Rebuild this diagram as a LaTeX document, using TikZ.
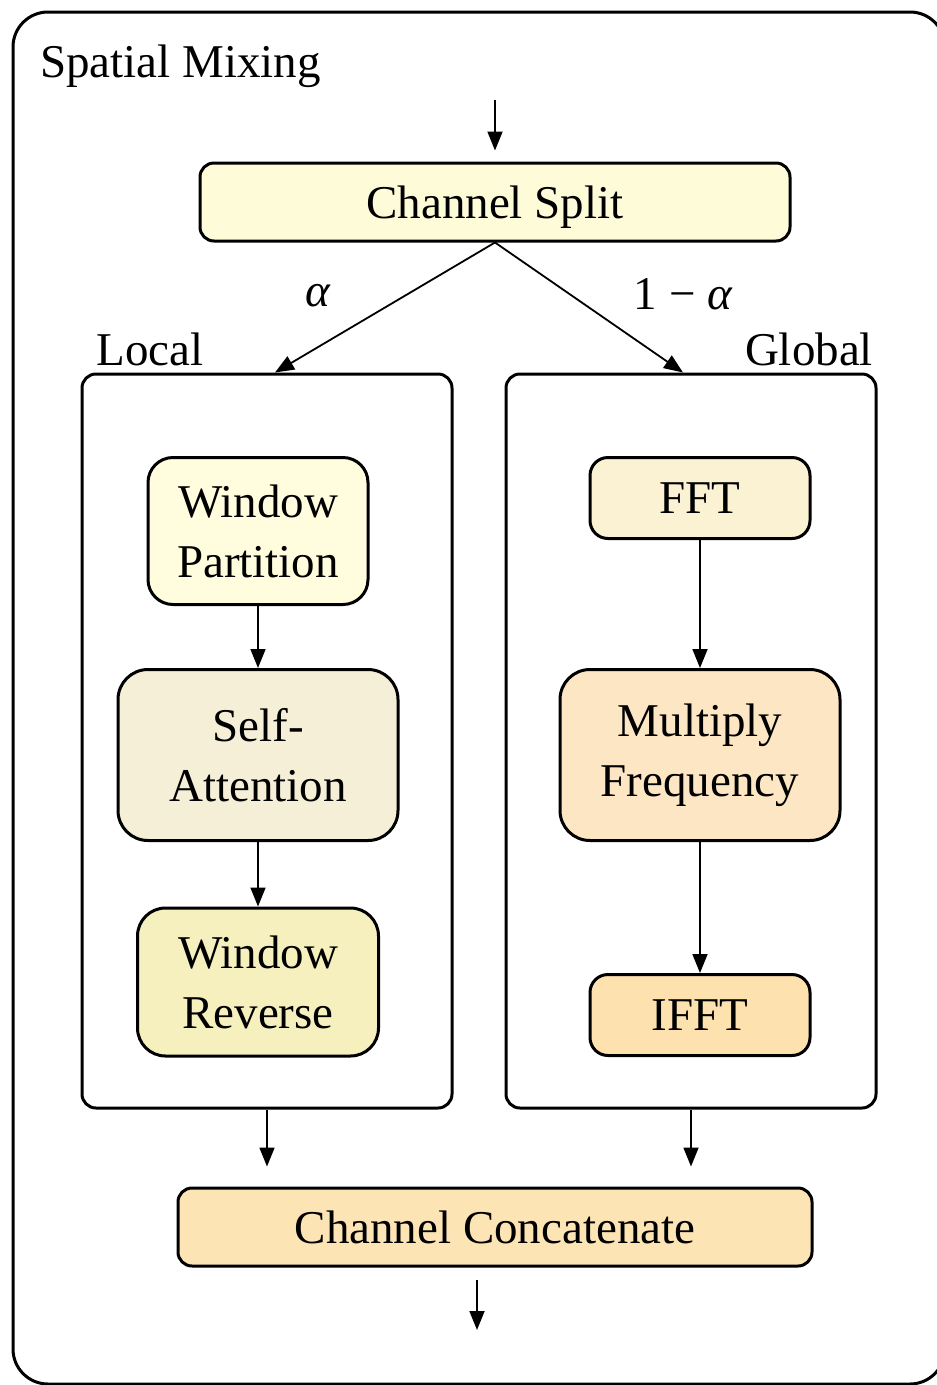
\documentclass[tikz,border=0pt]{standalone}
\usepackage{fontspec}
\setmainfont{Liberation Serif}
\usetikzlibrary{arrows.meta}
\definecolor{splitcol}{RGB}{254,252,216}
\definecolor{wpartcol}{RGB}{255,253,222}
\definecolor{selfcol}{RGB}{244,239,214}
\definecolor{wrevcol}{RGB}{245,240,190}
\definecolor{fftcol}{RGB}{250,242,210}
\definecolor{mulcol}{RGB}{253,230,195}
\definecolor{ifftcol}{RGB}{253,226,176}
\definecolor{concatcol}{RGB}{253,228,180}
\tikzset{
  blk/.style={draw, line width=3pt, inner sep=0pt, align=center,
    font=\fontsize{47}{60}\selectfont},
  grp/.style={draw, line width=3pt, inner sep=0pt, rounded corners=14pt},
  arr/.style={line width=1.8pt, -{Triangle[length=19pt,width=15pt]}},
  lbl/.style={font=\fontsize{47}{60}\selectfont, inner sep=0pt}
}

\begin{document}
\begin{tikzpicture}[x=1pt,y=-1pt]
  \useasboundingbox (0,0) rectangle (937,1385);
  % outer frame, cut off at the right and bottom
  \draw[line width=3pt, rounded corners=35pt] (13,12) rectangle (945,1384);
  \node[lbl, anchor=west] (title) at (40,66) {Spatial Mixing};

  \node[blk, fill=splitcol, rounded corners=14pt, minimum width=590, minimum height=78, text depth=0pt] (split) at (495,202) {Channel Split};
  \coordinate (in) at (495,100);
  \draw[arr, shorten >=11pt] (in) -- (split);

  % the two branches
  \node[grp, minimum width=370, minimum height=734] (localgrp) at (267,741) {};
  \node[grp, minimum width=370, minimum height=734] (globalgrp) at (691,741) {};
  \node[lbl] (loc) at (150,349) {Local};
  \node[lbl] (glob) at (809,349) {Global};
  \draw[arr] (split.south) -- ([xshift=8pt]localgrp.north);
  \draw[arr] (split.south) -- ([xshift=-8pt]globalgrp.north);
  \node[lbl] (alpha) at (318,296) {\itshape α};
  \node[lbl] (beta) at (683,294) {1 − \itshape α};

  % local branch
  \node[blk, fill=wpartcol, rounded corners=25pt, minimum width=220, minimum height=147] (wpart) at (258,531) {Window\\Partition};
  \node[blk, fill=selfcol, rounded corners=30pt, minimum width=280, minimum height=171] (selfatt) at (258,755) {Self-\\Attention};
  \node[blk, fill=wrevcol, rounded corners=28pt, minimum width=241, minimum height=148] (wrev) at (258,982) {Window\\Reverse};
  \draw[arr] (wpart) -- (selfatt);
  \draw[arr] (selfatt) -- (wrev);

  % global branch
  \node[blk, fill=fftcol, rounded corners=18pt, minimum width=220, minimum height=81] (fft) at (700,498) {FFT};
  \node[blk, fill=mulcol, rounded corners=30pt, minimum width=280, minimum height=171] (mulfreq) at (700,755) {Multiply\\Frequency};
  \node[blk, fill=ifftcol, rounded corners=18pt, minimum width=220, minimum height=81] (ifft) at (700,1015) {IFFT};
  \draw[arr] (fft) -- (mulfreq);
  \draw[arr] (mulfreq) -- (ifft);

  % merge
  \node[blk, fill=concatcol, rounded corners=14pt, minimum width=634, minimum height=78] (concat) at (495,1227) {Channel Concatenate};
  \draw[arr, shorten >=20pt] (localgrp.south) -- (localgrp.south |- concat.north);
  \draw[arr, shorten >=20pt] (globalgrp.south) -- (globalgrp.south |- concat.north);
  \coordinate (out) at (477,1330);
  \draw[arr, shorten <=12pt] (out |- concat.south) -- (out);
\end{tikzpicture}
\end{document}
